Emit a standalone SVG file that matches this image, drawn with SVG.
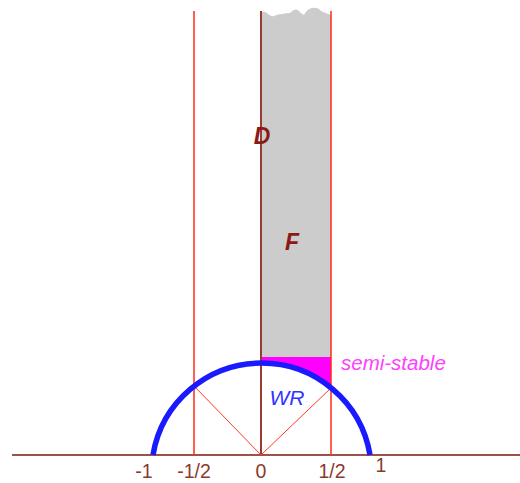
<svg xmlns="http://www.w3.org/2000/svg" width="520" height="483" viewBox="0 0 520 483">
<style>
.vline{stroke:#ff2a1a;stroke-width:1.5;fill:none}
.thin{stroke:#ff3a20;stroke-width:1;fill:none}
.axis{stroke:#a0524a;stroke-width:2;fill:none}
.tick{font-family:"Liberation Sans",Arial,sans-serif;font-size:19.5px;fill:#8b3a2e;text-anchor:middle}
.reg{font-family:"Liberation Sans",Arial,sans-serif;font-size:23px;font-weight:bold;font-style:italic;fill:#8b1a14;text-anchor:middle}
</style>
<rect width="520" height="483" fill="#ffffff"/>
<g id="region-F">
<path d="M261,357 L261,12 Q264,11 267,13 Q270,17 274,16 Q278,14 282,14 Q286,13 290,13 Q294,8 298,10 Q301,14 304,15 Q307,9 312,8 Q318,7 321,11 Q325,13 331,15 L331,357 Z" fill="#cccccc"/>
</g>
<g id="region-semi-stable">
<path d="M261,357 L331,357 L331,387.5 A110,110 0 0 0 261,362.6 Z" fill="#ff00ff"/>
</g>
<g id="connectors">
<line class="axis" x1="12" y1="455" x2="520" y2="455"/>
<line class="vline" x1="194" y1="11" x2="194" y2="455"/>
<line class="vline" x1="331" y1="11" x2="331" y2="455"/>
<line x1="261" y1="11" x2="261" y2="455" stroke="#9a3a30" stroke-width="2"/>
<line class="thin" x1="261" y1="455" x2="194" y2="386"/>
<line class="thin" x1="261" y1="455" x2="331" y2="388"/>
</g>
<g id="region-WR">
<path d="M153,455 A110,110 0 0 1 370,455" fill="none" stroke="#1a1aff" stroke-width="5.5"/>
<text x="287" y="405" font-family="'Liberation Sans',Arial,sans-serif" font-size="21" font-style="italic" fill="#3333ff" text-anchor="middle">WR</text>
</g>
<g id="labels">
<text class="reg" x="262" y="144">D</text>
<text class="reg" x="292" y="250">F</text>
<text x="341" y="370" font-family="'Liberation Sans',Arial,sans-serif" font-size="20.5" font-style="italic" fill="#ff40ff">semi-stable</text>
<text class="tick" x="144" y="478">-1</text>
<text class="tick" x="194" y="478">-1/2</text>
<text class="tick" x="261" y="478">0</text>
<text class="tick" x="332" y="478">1/2</text>
<text class="tick" x="381" y="472">1</text>
</g>
</svg>
